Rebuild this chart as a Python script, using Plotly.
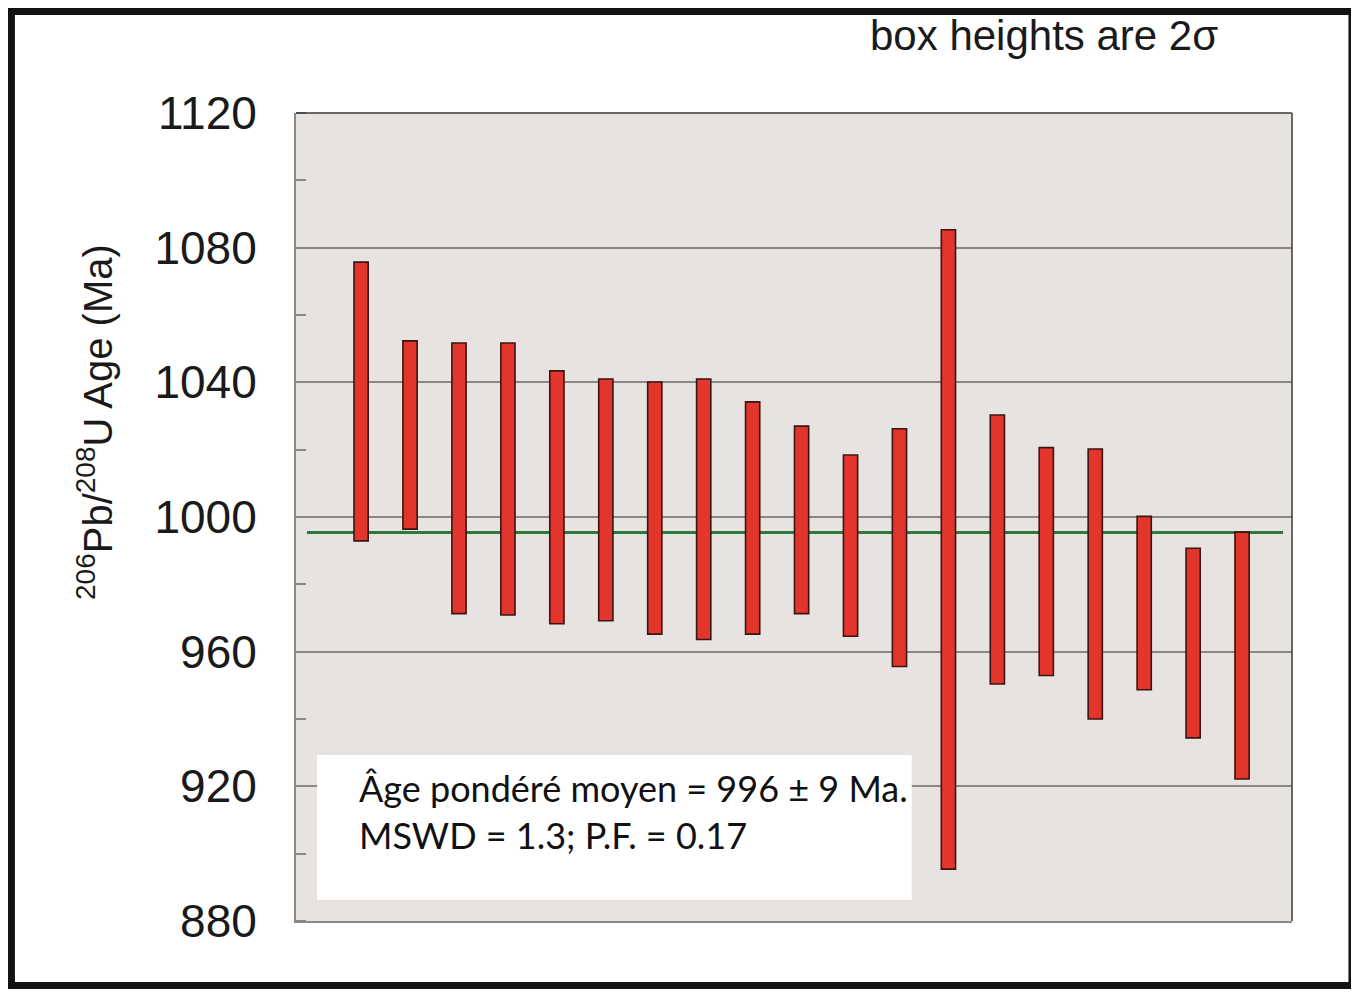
import plotly.graph_objects as go

# 206Pb/208U ages, 2-sigma boxes (Ma)
grain = list(range(1, 20))
age_upper = [1075.7, 1052.3, 1051.7, 1051.7, 1043.4, 1041.0, 1040.1, 1041.0, 1034.2, 1027.0,
             1018.4, 1026.2, 1085.3, 1030.3, 1020.6, 1020.2, 1000.2, 990.7, 995.5]
age_lower = [992.9, 996.4, 971.3, 970.9, 968.3, 969.2, 965.2, 963.6, 965.2, 971.3,
             964.6, 955.6, 895.4, 950.4, 952.9, 940.0, 948.7, 934.4, 922.2]
mean_age = 995.4

y_ticks = [880, 920, 960, 1000, 1040, 1080, 1120]

box_height = [u - l for u, l in zip(age_upper, age_lower)]

fig = go.Figure()
fig.add_trace(go.Bar(
    x=grain, y=box_height, base=age_lower, width=0.29,
    marker=dict(color="#E2352B", line=dict(color="#3a1512", width=1.6)),
    showlegend=False, hoverinfo="skip",
))

fig.update_layout(
    width=1351, height=984,
    margin=dict(l=288, r=67, t=105, b=71),
    paper_bgcolor="white",
    plot_bgcolor="#E7E3E0",
    font=dict(family="Liberation Sans, Arial, sans-serif", color="#1a1a1a"),
    showlegend=False,
    xaxis=dict(range=[-0.33, 20.02], showticklabels=False, showgrid=False, zeroline=False,
               showline=True, linecolor="#8c8886", linewidth=2, ticks=""),
    yaxis=dict(range=[880, 1120], tickvals=y_ticks, ticks="",
               tickfont=dict(size=46, color="#1a1a1a"), ticklabelstandoff=28,
               showgrid=True, gridcolor="#8c8784", gridwidth=1.6, zeroline=False,
               showline=True, linecolor="#8c8886", linewidth=2,
               minor=dict(dtick=20, ticks="inside", ticklen=10, tickcolor="#8c8886",
                          tickwidth=1.5, showgrid=False)),
    shapes=[
        # weighted mean line
        dict(type="line", xref="paper", yref="y", x0=0.011, x1=0.991, y0=mean_age, y1=mean_age,
             line=dict(color="#2E7A3A", width=3), layer="below"),
        # top and right plot border
        dict(type="line", xref="paper", yref="paper", x0=0, x1=1, y0=1, y1=1,
             line=dict(color="#3a3a3a", width=1.5)),
        dict(type="line", xref="paper", yref="paper", x0=1, x1=1, y0=0, y1=1,
             line=dict(color="#3a3a3a", width=1.5)),
        # white stats box
        dict(type="rect", xref="x", yref="y", x0=0.10, x1=12.25, y0=886.3, y1=929.3,
             fillcolor="white", line=dict(width=0), layer="above"),
        # outer black frame
        dict(type="rect", xref="paper", yref="paper", x0=-0.2857, x1=1.0602, y0=-0.0798, y1=1.1255,
             line=dict(color="#141210", width=7)),
    ],
    annotations=[
        dict(text="box heights are 2σ", xref="paper", yref="paper", x=0.574, y=1.0965,
             xanchor="left", yanchor="middle", showarrow=False,
             font=dict(size=42, color="#1a1a1a")),
        dict(text="<sup>206</sup>Pb/<sup>208</sup>U Age (Ma)", xref="paper", yref="paper",
             x=-0.2018, y=0.6176, xanchor="center", yanchor="middle", textangle=-90,
             showarrow=False, font=dict(size=40, color="#1a1a1a")),
        dict(text="Âge pondéré moyen = 996 ± 9 Ma.<br>MSWD = 1.3; P.F. = 0.17",
             xref="paper", yref="paper", x=0.0612, y=0.135, xanchor="left", yanchor="middle",
             align="left", showarrow=False,
             font=dict(family="Lato, Noto Sans, sans-serif", size=36, color="#111111")),
    ],
)

fig.write_html("out.html")
